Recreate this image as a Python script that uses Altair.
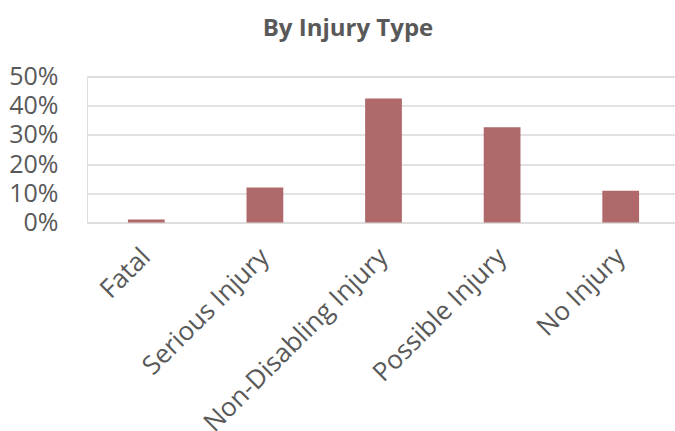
import altair as alt
import pandas as pd

# Share of persons by injury type
categories = ["Fatal", "Serious Injury", "Non-Disabling Injury", "Possible Injury", "No Injury"]
shares = [0.010, 0.120, 0.425, 0.326, 0.109]

df = pd.DataFrame({"category": categories, "share": shares})

TEXT = "#595959"
GRID = "#D9D9D9"
BAR = "#B0696A"
FONT = "Open Sans"

chart = (
    alt.Chart(df)
    .mark_bar(color=BAR)
    .encode(
        x=alt.X(
            "category:N",
            sort=categories,
            scale=alt.Scale(range=[0, 593], paddingInner=0.69, paddingOuter=0.345),
            axis=alt.Axis(
                title=None,
                domain=False,
                ticks=False,
                labelAngle=315,
                labelAlign="right",
                labelBaseline="middle",
                labelPadding=30,
                labelOffset=0,
                labelLimit=0,
                labelFont=FONT,
                labelFontSize=26,
                labelColor=TEXT,
                grid=False,
            ),
        ),
        y=alt.Y(
            "share:Q",
            scale=alt.Scale(domain=[0, 0.5], nice=False),
            axis=alt.Axis(
                title=None,
                format=".0%",
                values=[0, 0.1, 0.2, 0.3, 0.4, 0.5],
                domain=False,
                ticks=False,
                labelPadding=29,
                labelFont=FONT,
                labelFontSize=25,
                labelColor=TEXT,
                gridColor=GRID,
                gridWidth=1.5,
            ),
        ),
    )
    .properties(
        width=588,
        height=146,
        title=alt.TitleParams(
            "By Injury Type",
            font=FONT,
            fontSize=24,
            fontWeight="bold",
            color=TEXT,
            anchor="middle",
            dx=-33,
            offset=5,
            baseline="alphabetic",
        ),
        autosize=alt.AutoSizeParams(type="none"),
        padding={"left": 87, "top": 76.5, "right": 0, "bottom": 208.5},
    )
    .configure_view(stroke=None)
    .configure(background="white")
)

chart.save("out.html", embed_options={"renderer": "svg", "actions": False})
